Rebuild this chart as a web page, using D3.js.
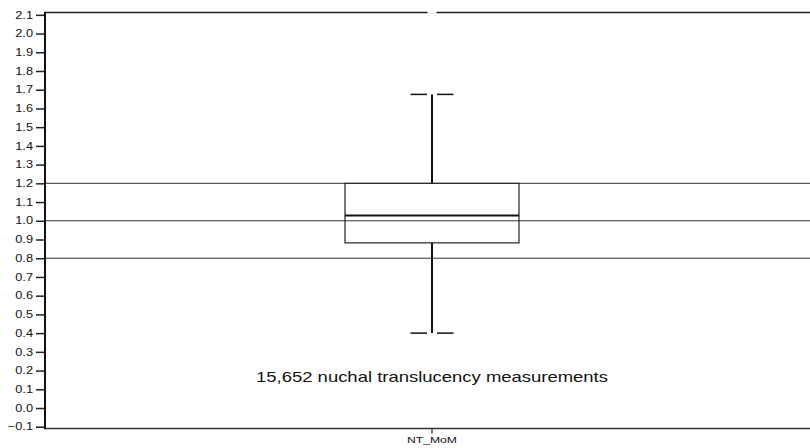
<!DOCTYPE html>
<html>
<head>
<meta charset="utf-8">
<script src="https://cdn.jsdelivr.net/npm/d3@7"></script>
<style>
  body { margin: 0; background: #fff; }
  text { font-family: "Liberation Sans", Arial, sans-serif; fill: #111; }
</style>
</head>
<body>
<svg id="chart" width="810" height="448"></svg>
<script>
// data
const category = ["NT_MoM"]
const boxStats = [{ name: "NT_MoM", low: 0.40, q1: 0.882, median: 1.028, q3: 1.20, high: 1.675, outlier: 2.113 }]
const refLines = [0.8, 1.0, 1.2]
const yTicks = d3.range(-1, 22).map(d => d / 10)
const note = "15,652 nuchal translucency measurements"

let svg = d3.select("#chart")
let plotLeft = 45, plotRight = 812, plotTop = 12.4, plotBottom = 428.6
let stretch = 1.28   // the text in the picture is drawn wider than it is tall

let yScale = d3.scaleLinear().domain([-0.11, 2.113]).range([plotBottom, plotTop])
let xScale = d3.scaleBand().domain(category).range([plotLeft, 819]).padding(0)

// reference lines
svg.selectAll(".ref")
    .data(refLines)
    .enter()
    .append("line")
    .attr("class", "ref")
    .attr("x1", plotLeft).attr("x2", plotRight)
    .attr("y1", d => yScale(d)).attr("y2", d => yScale(d))
    .attr("stroke", "#333").attr("stroke-width", 1)

// top border
svg.append("line")
    .attr("x1", plotLeft).attr("x2", plotRight)
    .attr("y1", plotTop).attr("y2", plotTop)
    .attr("stroke", "#222").attr("stroke-width", 1.5)

// y axis
let y_axis = d3.axisLeft(yScale).tickValues(yTicks).tickSize(9).tickPadding(3)
    .tickFormat(d3.format(".1f"))
let gy = svg.append("g").attr("transform", `translate(${plotLeft},0)`).call(y_axis)
gy.select(".domain").remove()
gy.selectAll(".tick line").attr("stroke", "#222").attr("stroke-width", 1.5)
gy.selectAll(".tick text")
    .style("font-size", "10px").attr("fill", "#111")
    .attr("x", -12 / stretch)
    .attr("transform", `scale(${stretch},1)`)
svg.append("line")
    .attr("x1", plotLeft).attr("x2", plotLeft)
    .attr("y1", plotTop - 0.7).attr("y2", plotBottom + 0.7)
    .attr("stroke", "#111").attr("stroke-width", 2)

// x axis
let x_axis = d3.axisBottom(xScale).tickSize(5).tickPadding(3)
let gx = svg.append("g").attr("transform", `translate(0,${plotBottom})`).call(x_axis)
gx.select(".domain").remove()
gx.selectAll(".tick line").attr("stroke", "#222").attr("stroke-width", 1.2)
gx.selectAll(".tick text")
    .style("font-size", "9.5px").attr("fill", "#111")
    .attr("y", 8).attr("transform", `scale(${stretch},1)`)
svg.append("line")
    .attr("x1", plotLeft).attr("x2", plotRight)
    .attr("y1", plotBottom).attr("y2", plotBottom)
    .attr("stroke", "#333").attr("stroke-width", 1.5)

// box plot
let boxW = 174, capHalf = 21.5, capGap = 5
boxStats.forEach(function (d) {
    let cx = xScale(d.name) + xScale.bandwidth() / 2
    let g = svg.append("g")
    // whiskers
    g.append("line").attr("x1", cx).attr("x2", cx)
        .attr("y1", yScale(d.high)).attr("y2", yScale(d.q3))
        .attr("stroke", "#111").attr("stroke-width", 2)
    g.append("line").attr("x1", cx).attr("x2", cx)
        .attr("y1", yScale(d.q1)).attr("y2", yScale(d.low))
        .attr("stroke", "#111").attr("stroke-width", 2)
    // caps, split around the whisker
    ;[d.high, d.low].forEach(function (v) {
        g.append("line").attr("x1", cx - capHalf).attr("x2", cx - capGap)
            .attr("y1", yScale(v)).attr("y2", yScale(v))
            .attr("stroke", "#111").attr("stroke-width", 1.5)
        g.append("line").attr("x1", cx + capGap).attr("x2", cx + capHalf)
            .attr("y1", yScale(v)).attr("y2", yScale(v))
            .attr("stroke", "#111").attr("stroke-width", 1.5)
    })
    // box
    g.append("rect")
        .attr("x", cx - boxW / 2).attr("width", boxW)
        .attr("y", yScale(d.q3)).attr("height", yScale(d.q1) - yScale(d.q3))
        .attr("fill", "#fff").attr("stroke", "#222").attr("stroke-width", 1.2)
    // reference line through the box stays visible
    refLines.forEach(function (r) {
        if (r > d.q1 && r < d.q3) {
            g.append("line").attr("x1", cx - boxW / 2).attr("x2", cx + boxW / 2)
                .attr("y1", yScale(r)).attr("y2", yScale(r))
                .attr("stroke", "#333").attr("stroke-width", 1)
        }
    })
    g.append("line").attr("x1", cx - boxW / 2).attr("x2", cx + boxW / 2)
        .attr("y1", yScale(d.median)).attr("y2", yScale(d.median))
        .attr("stroke", "#111").attr("stroke-width", 2)
    // outlier off the top, drawn as a white mark on the border
    g.append("line").attr("x1", cx - 4.5).attr("x2", cx + 4.5)
        .attr("y1", yScale(d.outlier)).attr("y2", yScale(d.outlier))
        .attr("stroke", "#fff").attr("stroke-width", 2.5)
})

// annotation
svg.append("text")
    .attr("transform", `translate(432,${yScale(0.139)}) scale(1.32,1)`)
    .attr("text-anchor", "middle")
    .style("font-size", "14px")
    .text(note)
</script>
</body>
</html>
